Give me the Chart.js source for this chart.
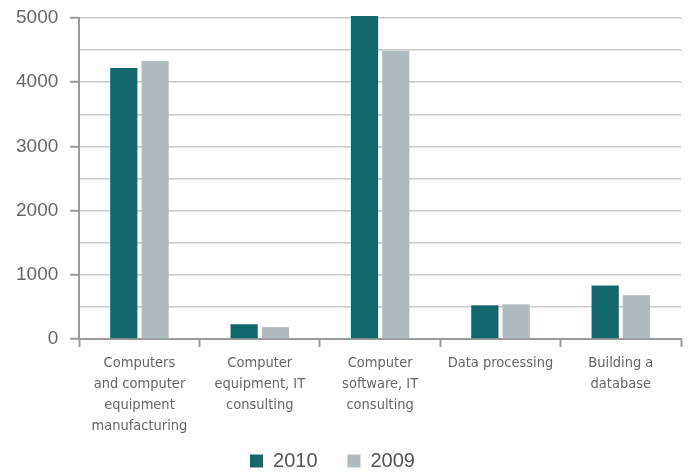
<!DOCTYPE html>
<html>
<head>
<meta charset="utf-8">
<script src="https://cdn.jsdelivr.net/npm/chart.js@4"></script>
<style>
  html, body { margin: 0; padding: 0; background: #fff; }
  #wrap { width: 688px; height: 472px; }
</style>
</head>
<body>
<div id="wrap"><canvas id="chart"></canvas></div>
<script>
const categories = [
    ['Computers', 'and computer', 'equipment', 'manufacturing'],
    ['Computer', 'equipment, IT', 'consulting'],
    ['Computer', 'software, IT', 'consulting'],
    ['Data processing'],
    ['Building a', 'database']
];
const values2010 = [4220, 230, 5030, 525, 835];
const values2009 = [4330, 185, 4490, 540, 680];
const seriesNames = ['2010', '2009'];

const teal = '#13676b';
const grey = '#b0bbc0';
const condensed = "'Liberation Sans Narrow', 'DejaVu Sans Condensed', sans-serif";
const plain = "'Liberation Sans', Arial, sans-serif";

// legend keeps its wide item spacing but takes little room in the layout;
// after layout its box is stretched up so it sits under the labels
const legendHeight = {
    id: 'legendHeight',
    beforeInit(chart) {
        const fit = chart.legend.fit;
        chart.legend.fit = function () {
            fit.call(this);
            this.height = 29;
        };
    },
    afterLayout(chart) {
        const lg = chart.legend;
        lg.bottom = chart.height;
        lg.top = chart.height - 51;
        lg.height = 51;
        lg.left -= 10;
        lg.right -= 10;
    }
};

const ctx = document.getElementById('chart').getContext('2d');
new Chart(ctx, {
    type: 'bar',
    data: {
        labels: categories,
        datasets: [
            { label: seriesNames[0], data: values2010, backgroundColor: teal, clip: false },
            { label: seriesNames[1], data: values2009, backgroundColor: grey, clip: false }
        ]
    },
    options: {
        responsive: true,
        maintainAspectRatio: false,
        animation: false,
        categoryPercentage: 0.52,
        barPercentage: 0.87,
        layout: { padding: { top: 0, right: 7, left: 4, bottom: 0 } },
        scales: {
            y: {
                min: 0,
                max: 5000,
                border: { color: '#9a9a9a', width: 2 },
                grid: {
                    color: '#c8c8c8',
                    lineWidth: 1.5,
                    tickLength: 9,
                    tickColor: (c) => (c.tick && c.tick.value % 1000 === 0) ? '#9a9a9a' : 'rgba(0,0,0,0)',
                    tickWidth: 2
                },
                ticks: {
                    stepSize: 500,
                    padding: 12,
                    color: '#666',
                    font: { family: plain, size: 19 },
                    callback: (v) => v % 1000 === 0 ? String(v) : ''
                },
                afterFit: (scale) => { scale.paddingTop = 18; }
            },
            x: {
                border: { color: '#9a9a9a', width: 2 },
                grid: {
                    offset: true,
                    drawOnChartArea: false,
                    tickLength: 8,
                    tickColor: '#9a9a9a',
                    tickWidth: 2
                },
                ticks: {
                    padding: 6,
                    maxRotation: 0,
                    autoSkip: false,
                    color: '#666',
                    font: { family: condensed, size: 14.5, lineHeight: '21px' }
                }
            }
        },
        plugins: {
            legend: {
                position: 'bottom',
                labels: {
                    boxWidth: 13,
                    boxHeight: 13,
                    padding: 30,
                    color: '#555',
                    font: { family: plain, size: 20 }
                }
            },
            tooltip: { enabled: false }
        }
    },
    plugins: [legendHeight]
});
</script>
</body>
</html>
